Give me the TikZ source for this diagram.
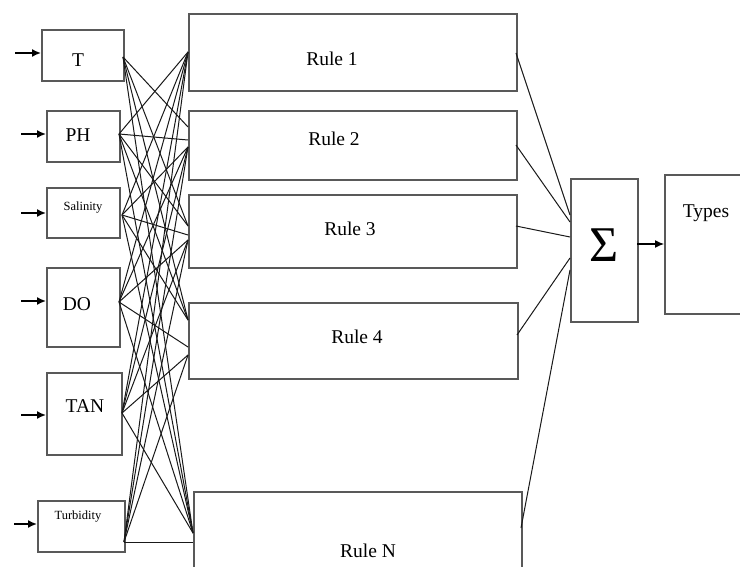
\documentclass[tikz,border=0pt]{standalone}
\usepackage{fontspec}
\setmainfont{Liberation Serif}
\usetikzlibrary{arrows.meta}
\tikzset{
  box/.style={draw=black!65, line width=1.6pt, inner sep=0pt, anchor=north west},
  big/.style={font=\fontsize{19.5}{19.5}\selectfont, inner sep=0pt},
  small/.style={font=\fontsize{12.5}{12.5}\selectfont, inner sep=0pt},
  wire/.style={draw=black!90, line width=1pt},
  feed/.style={draw=black, line width=1.6pt, -{Latex[length=9pt,width=8pt]}},
}
\newcommand{\bx}[5]{\node[box, minimum width=#4pt-#2pt, minimum height=#5pt-#3pt] (#1) at (#2,#3) {};}
\begin{document}
\begin{tikzpicture}[x=1pt,y=-1pt]
\useasboundingbox[fill=white] (0,0) rectangle (740,567);

% input boxes
\bx{T}{41}{29}{123}{80}
\bx{PH}{46}{110}{119}{161}
\bx{Sal}{46}{187}{119}{237}
\bx{DO}{46}{267}{119}{346}
\bx{TAN}{46}{372}{121}{454}
\bx{Turb}{37}{500}{124}{551}

% rule boxes
\bx{R1}{188}{13}{516}{90}
\bx{R2}{188}{110}{516}{179}
\bx{R3}{188}{194}{516}{267}
\bx{R4}{188}{302}{517}{378}
\bx{RN}{193}{491}{521}{600}

% sum and output
\bx{Sig}{570}{178}{637}{321}
\bx{Typ}{664}{174}{780}{313}

% labels
\node[big] (lT) at (78,60) {T};
\node[big] (lPH) at (78,135) {PH};
\node[small] (lSal) at (83,208) {Salinity};
\node[big] (lDO) at (77,304) {DO};
\node[big] (lTAN) at (85,406) {TAN};
\node[small] (lTurb) at (78,517) {Turbidity};
\node[big] (lR1) at (332,59) {Rule 1};
\node[big] (lR2) at (334,139) {Rule 2};
\node[big] (lR3) at (350,229) {Rule 3};
\node[big] (lR4) at (357,337) {Rule 4};
\node[big] (lRN) at (368,551) {Rule N};
\node[font=\fontsize{50}{50}\selectfont, inner sep=0pt] (lSig) at (604,245) {Σ};
\node[big] (lTyp) at (706,213) {Types};

% input feeds
\coordinate (aT) at (15,53);
\coordinate (aPH) at (21,134);
\coordinate (aSal) at (21,213);
\coordinate (aDO) at (21,301);
\coordinate (aTAN) at (21,415);
\coordinate (aTurb) at (14,524);
\foreach \n in {T,PH,Sal,DO,TAN,Turb}
  \draw[feed] (a\n) -- (a\n -| \n.west);

% ports on the input boxes
\coordinate (oT) at (123,57);
\coordinate (oPH) at (119,134);
\coordinate (oSal) at (122,215);
\coordinate (oDO) at (119,302);
\coordinate (oTAN) at (122,413);
\coordinate (oTurb) at (124,542);

% ports on the rule boxes
\coordinate (iR1) at (188,52);
\coordinate (iR2a) at (188,127);
\coordinate (iR2s) at (188,140);
\coordinate (iR2b) at (188,147);
\coordinate (iR3a) at (188,226);
\coordinate (iR3s) at (188,235);
\coordinate (iR3b) at (188,240);
\coordinate (iR4a) at (188,320);
\coordinate (iR4s) at (188,347);
\coordinate (iR4b) at (188,355);
\coordinate (iRNa) at (193,533);
\coordinate (iRNs) at (193,542);

% input-to-rule mesh
\foreach \s/\t in {
  T/R2a, T/R3a, T/R4a, T/RNa,
  PH/R1, PH/R2s, PH/R3a, PH/R4a, PH/RNa,
  Sal/R1, Sal/R2b, Sal/R3s, Sal/R4a, Sal/RNa,
  DO/R1, DO/R2b, DO/R3b, DO/R4s, DO/RNa,
  TAN/R1, TAN/R2b, TAN/R3b, TAN/R4b, TAN/RNa,
  Turb/R1, Turb/R2b, Turb/R3b, Turb/R4b, Turb/RNs}
  \draw[wire] (o\s) -- (i\t);

% rule outputs into the sum
\coordinate (qR1) at (516,53);
\coordinate (qR2) at (516,145);
\coordinate (qR3) at (516,226);
\coordinate (qR4) at (517,335);
\coordinate (qRN) at (521,528);
\coordinate (sR1) at (570,215);
\coordinate (sR2) at (570,222);
\coordinate (sR3) at (570,237);
\coordinate (sR4) at (570,258);
\coordinate (sRN) at (570,270);
\foreach \r in {R1,R2,R3,R4,RN}
  \draw[wire] (q\r) -- (s\r);

% sum to output
\coordinate (sOut) at (637,244);
\draw[feed, line width=1.2pt] (sOut) -- (sOut -| Typ.west);
\end{tikzpicture}
\end{document}
